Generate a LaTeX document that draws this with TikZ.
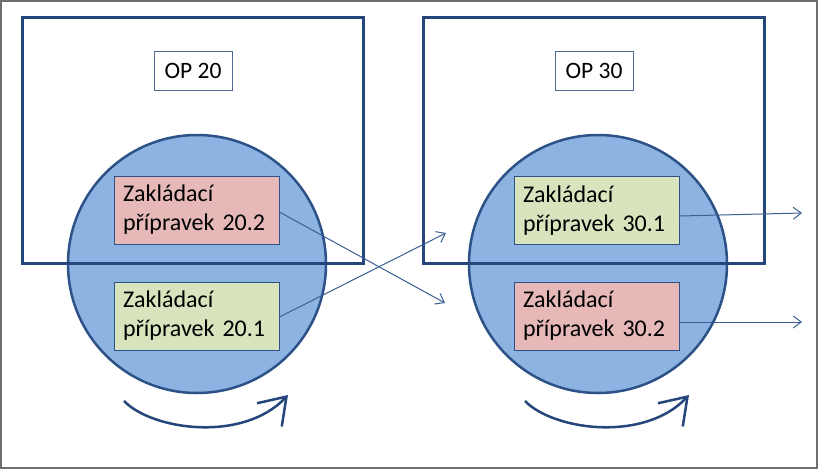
\documentclass[tikz,border=0pt]{standalone}
\usepackage{fontspec}
\setmainfont{Carlito}
\usetikzlibrary{arrows.meta, positioning}
\definecolor{frameblue}{RGB}{37, 70, 122}
\definecolor{tableblue}{RGB}{141, 179, 226}
\definecolor{tableedge}{RGB}{44, 82, 135}
\definecolor{fixred}{RGB}{230, 185, 184}
\definecolor{fixgreen}{RGB}{215, 228, 189}
\definecolor{flowblue}{RGB}{58, 95, 145}
\definecolor{outergray}{RGB}{110, 110, 110}
\newcommand\fixturefont{\fontsize{24}{29}\selectfont\spaceskip=3.5pt\relax}
\tikzset{
  opframe/.style={rectangle, draw=frameblue, line width=3pt,
                  minimum width=341pt, minimum height=246pt, inner sep=0pt},
  turntable/.style={circle, draw=tableedge, line width=2.5pt, fill=tableblue,
                    minimum size=258pt, inner sep=0pt},
  oplabel/.style={rectangle, draw=frameblue!80, fill=white, line width=0.8pt,
                  minimum width=78pt, minimum height=39pt,
                  font=\fontsize{23.5}{29}\selectfont},
  fixture/.style={rectangle, draw=tableedge, line width=0.8pt, fill=#1,
                  minimum width=165pt, minimum height=68pt, text width=147pt,
                  align=left, inner sep=9pt, font=\fixturefont},
  fixture/.default=fixgreen,
  flowarrow/.style={-{Straight Barb[length=8pt, width=12pt]}, line width=1pt, color=flowblue},
  turnarrow/.style={-{Straight Barb[length=25pt, width=34pt]}, line width=2.5pt, color=frameblue},
}
\begin{document}
\begin{tikzpicture}[x=1pt, y=-1pt]
        \useasboundingbox (0,0) rectangle (818,469);
        \draw[outergray, line width=2pt] (1,1) rectangle (817,468);

        % OP 20
        \node[turntable] (table20) at (197, 264) {};
        \node[opframe] (op20) at (193, 140) {};
        \node[oplabel] (lbl20) at (193, 70.5) {OP 20};
        \node[fixture=fixred] (fix202) at (196.5, 210) {Zakládací\\přípravek 20.2};
        \node[fixture] (fix201) at (196.5, 316) {Zakládací\\přípravek 20.1};
        \draw[turnarrow] (124, 401) .. controls (152, 430) and (243, 443) .. (288, 395);

        % OP 30
        \node[turntable] (table30) at (598, 264) {};
        \node[opframe] (op30) at (593.5, 140) {};
        \node[oplabel] (lbl30) at (594, 70.5) {OP 30};
        \node[fixture] (fix301) at (596.5, 210.5) {Zakládací\\přípravek 30.1};
        \node[fixture=fixred] (fix302) at (596.5, 316) {Zakládací\\přípravek 30.2};
        \draw[turnarrow] (525, 401) .. controls (553, 430) and (644, 443) .. (689, 395);

        % Transfer
        \coordinate (in30a) at (446, 233);
        \coordinate (in30b) at (445, 303);
        \coordinate (out301) at (802, 213);
        \coordinate (out302) at (802, 322);
        \draw[flowarrow] (fix202.east |- 0, 212) -- (in30b);
        \draw[flowarrow] (fix201.east |- 0, 317) -- (in30a);
        \draw[flowarrow] (fix301.east |- 0, 216) -- (out301);
        \draw[flowarrow] (fix302.east |- 0, 322) -- (out302);
      \end{tikzpicture}
\end{document}
